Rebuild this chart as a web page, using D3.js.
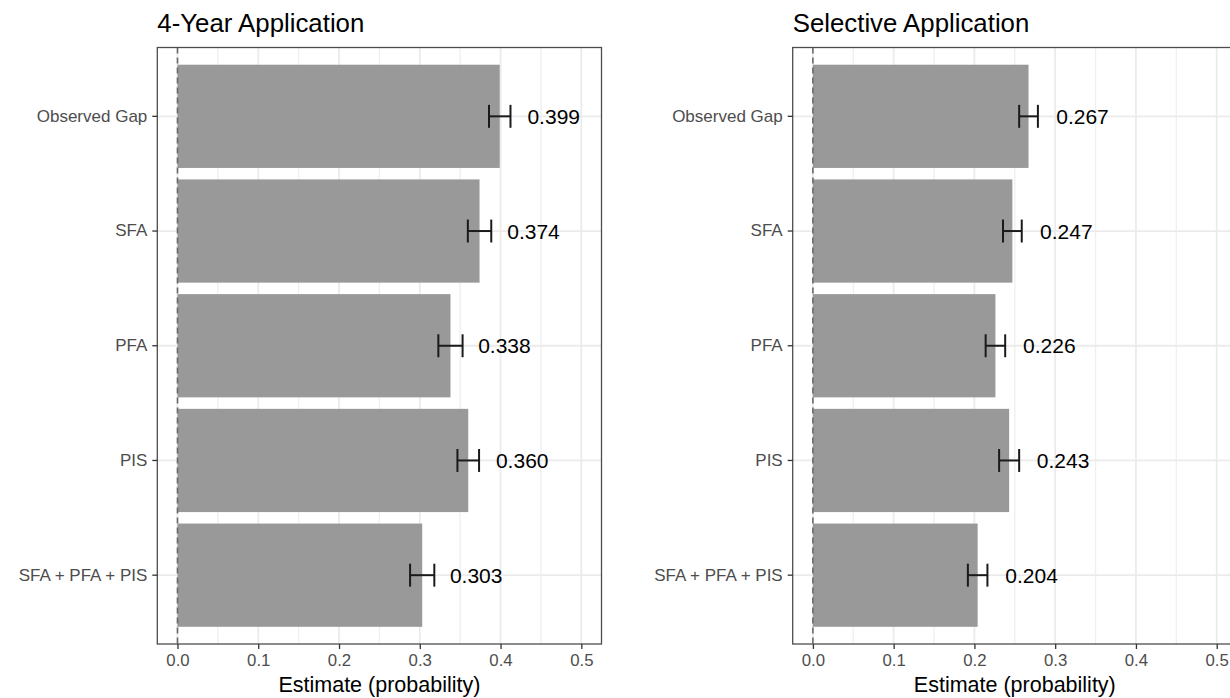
<!DOCTYPE html>
<html>
<head>
<meta charset="utf-8">
<script src="https://cdn.jsdelivr.net/npm/d3@7"></script>
<style>
  html, body { margin: 0; padding: 0; background: #ffffff; }
  svg { display: block; font-family: "Liberation Sans", Arial, Helvetica, sans-serif; }
</style>
</head>
<body>
<svg id="chart" width="1230" height="698"></svg>
<script>
// Decomposition categories, top to bottom
const categories = ["Observed Gap", "SFA", "PFA", "PIS", "SFA + PFA + PIS"];

// 4-year application gap: estimates and half-width of the confidence interval
const fourYearEstimate = [0.399, 0.374, 0.338, 0.360, 0.303];
const fourYearMargin   = [0.0133, 0.0145, 0.0150, 0.0134, 0.0150];

// Selective application gap: estimates and half-width of the confidence interval
const selectiveEstimate = [0.267, 0.247, 0.226, 0.243, 0.204];
const selectiveMargin   = [0.0116, 0.0116, 0.0121, 0.0124, 0.0121];

const panelTitles = ["4-Year Application", "Selective Application"];
const xTickValues = [0, 0.1, 0.2, 0.3, 0.4, 0.5];
const xMinorValues = [0.05, 0.15, 0.25, 0.35, 0.45];
const xAxisTitle = "Estimate (probability)";

const panels = [
  { title: panelTitles[0], est: fourYearEstimate, moe: fourYearMargin, left: 157.3 },
  { title: panelTitles[1], est: selectiveEstimate, moe: selectiveMargin, left: 792.7 }
];

const svg = d3.select("#chart");
const panelWidth = 444.2;
const panelTop = 47.5, panelBottom = 644;
const fontStack = "\"Liberation Sans\", Arial, sans-serif";

panels.forEach(p => {
  const g = svg.append("g");
  const x = d3.scaleLinear().domain([-0.025, 0.525]).range([p.left, p.left + panelWidth]);
  const y = d3.scaleBand().domain(categories).range([panelTop, panelBottom])
    .paddingInner(0.1).paddingOuter(0.15);
  const rows = categories.map((c, i) => ({ cat: c, est: p.est[i], moe: p.moe[i] }));
  const yc = c => y(c) + y.bandwidth() / 2;

  // panel background
  g.append("rect").attr("x", p.left).attr("y", panelTop)
    .attr("width", panelWidth).attr("height", panelBottom - panelTop).attr("fill", "#ffffff");

  // minor vertical grid
  g.selectAll(".minor").data(xMinorValues).join("line")
    .attr("x1", d => x(d)).attr("x2", d => x(d)).attr("y1", panelTop).attr("y2", panelBottom)
    .attr("stroke", "#efefef").attr("stroke-width", 1.3);
  // major vertical grid
  g.selectAll(".major").data(xTickValues).join("line")
    .attr("x1", d => x(d)).attr("x2", d => x(d)).attr("y1", panelTop).attr("y2", panelBottom)
    .attr("stroke", "#ebebeb").attr("stroke-width", 1.8);
  // horizontal grid at categories
  g.selectAll(".hgrid").data(categories).join("line")
    .attr("x1", p.left).attr("x2", p.left + panelWidth).attr("y1", d => yc(d)).attr("y2", d => yc(d))
    .attr("stroke", "#ebebeb").attr("stroke-width", 1.8);

  // bars
  g.selectAll(".bar").data(rows).join("rect")
    .attr("x", x(0)).attr("y", d => y(d.cat))
    .attr("width", d => x(d.est) - x(0)).attr("height", y.bandwidth())
    .attr("fill", "#999999");

  // zero reference line
  g.append("line").attr("x1", x(0)).attr("x2", x(0)).attr("y1", panelTop).attr("y2", panelBottom)
    .attr("stroke", "#6a6a6a").attr("stroke-width", 1.6).attr("stroke-dasharray", "6,4");

  // error bars
  const cap = y.step() * 0.1;
  const eb = g.selectAll(".eb").data(rows).join("g").attr("stroke", "#1a1a1a").attr("stroke-width", 2);
  eb.append("line").attr("x1", d => x(d.est - d.moe)).attr("x2", d => x(d.est + d.moe))
    .attr("y1", d => yc(d.cat)).attr("y2", d => yc(d.cat));
  eb.append("line").attr("x1", d => x(d.est - d.moe)).attr("x2", d => x(d.est - d.moe))
    .attr("y1", d => yc(d.cat) - cap).attr("y2", d => yc(d.cat) + cap);
  eb.append("line").attr("x1", d => x(d.est + d.moe)).attr("x2", d => x(d.est + d.moe))
    .attr("y1", d => yc(d.cat) - cap).attr("y2", d => yc(d.cat) + cap);

  // value labels
  g.selectAll(".lab").data(rows).join("text")
    .attr("x", d => x(d.est) + 27.7).attr("y", d => yc(d.cat))
    .attr("dy", "0.36em").attr("font-size", 21).attr("fill", "#000000")
    .text(d => d3.format(".3f")(d.est));

  // panel border
  g.append("rect").attr("x", p.left).attr("y", panelTop)
    .attr("width", panelWidth).attr("height", panelBottom - panelTop)
    .attr("fill", "none").attr("stroke", "#4d4d4d").attr("stroke-width", 1.3);

  // x axis
  const xAxis = d3.axisBottom(x).tickValues(xTickValues).tickFormat(d3.format(".1f"))
    .tickSizeInner(5).tickSizeOuter(0).tickPadding(5);
  const xg = g.append("g").attr("transform", `translate(0,${panelBottom})`).call(xAxis);
  xg.select(".domain").remove();
  xg.selectAll("line").attr("stroke", "#333333").attr("stroke-width", 1.3);
  xg.selectAll("text").attr("font-size", 16.8).attr("fill", "#4d4d4d")
    .attr("font-family", fontStack);

  // y axis
  const yAxis = d3.axisLeft(y).tickSizeInner(5).tickSizeOuter(0).tickPadding(5);
  const yg = g.append("g").attr("transform", `translate(${p.left},0)`).call(yAxis);
  yg.select(".domain").remove();
  yg.selectAll("line").attr("stroke", "#333333").attr("stroke-width", 1.3);
  yg.selectAll("text").attr("font-size", 17).attr("fill", "#4d4d4d")
    .attr("font-family", fontStack);

  // axis title
  g.append("text").attr("x", x(0.25)).attr("y", 692).attr("text-anchor", "middle")
    .attr("font-size", 21.5).attr("fill", "#000000").text(xAxisTitle);

  // panel title
  g.append("text").attr("x", p.left).attr("y", 32).attr("font-size", 25.8)
    .attr("fill", "#000000").text(p.title);
});
</script>
</body>
</html>
